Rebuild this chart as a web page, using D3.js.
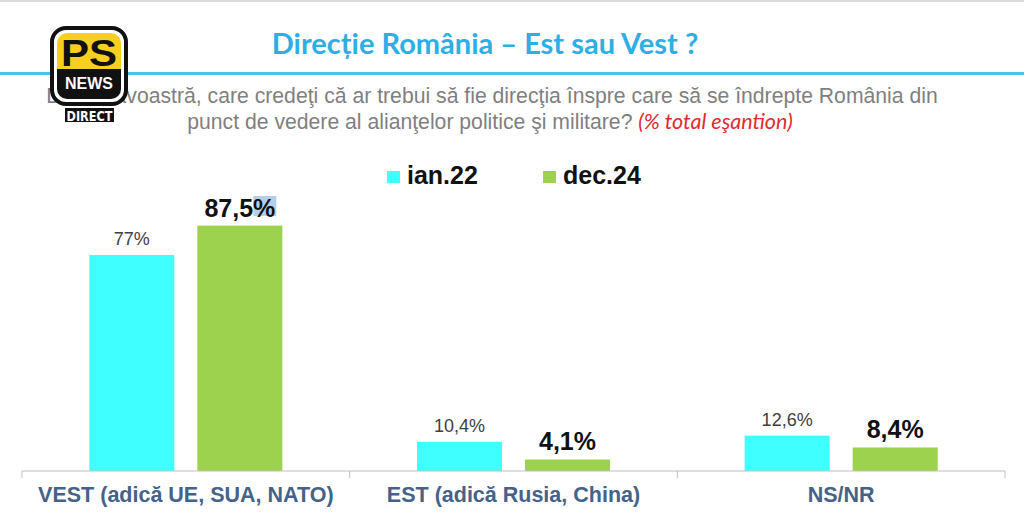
<!DOCTYPE html>
<html>
<head>
<meta charset="utf-8">
<script src="https://cdn.jsdelivr.net/npm/d3@7"></script>
<style>
  body { margin: 0; background: #fff; }
  svg { display: block; }
</style>
</head>
<body>
<svg id="chart"></svg>
<script>
let categories = ["VEST (adică UE, SUA, NATO)", "EST (adică Rusia, China)", "NS/NR"]
let series = ["ian.22", "dec.24"]
let ian22 = [77, 10.4, 12.6]
let dec24 = [87.5, 4.1, 8.4]
let valueLabels = [["77%", "10,4%", "12,6%"], ["87,5%", "4,1%", "8,4%"]]
let colors = ["#40ffff", "#9dd24f"]

let width = 1024
let height = 532
let baseY = 471

let svg = d3.select('#chart')
  .attr('width', width)
  .attr('height', height)

// frame
svg.append('rect').attr('x', 0).attr('y', 0).attr('width', width).attr('height', 2).attr('fill', '#dcdcdc')
svg.append('rect').attr('x', 0).attr('y', 72).attr('width', width).attr('height', 3).attr('fill', '#4cc3ea')

svg.append('text')
  .attr('x', 485).attr('y', 54)
  .attr('text-anchor', 'middle')
  .style('font-family', 'Lato, sans-serif')
  .style('font-weight', 'bold')
  .style('font-size', '29px')
  .attr('fill', '#2eaee4')
  .text('Direcție România – Est sau Vest ?')

let sub = svg.append('g')
  .style('font-family', '"Liberation Sans", Arial, sans-serif')
  .attr('fill', '#7f7f7f')
  .style('font-size', '21.2px')
sub.append('text').attr('x', 492).attr('y', 103).attr('text-anchor', 'middle')
  .text('Dumneavoastră, care credeţi că ar trebui să fie direcţia înspre care să se îndrepte România din')
let l2 = sub.append('text').attr('x', 490).attr('y', 129).attr('text-anchor', 'middle')
l2.append('tspan').text('punct de vedere al alianţelor politice şi militare?  ')
l2.append('tspan')
  .attr('fill', '#e02b2f')
  .style('font-family', 'Lato, sans-serif')
  .style('font-style', 'italic')
  .style('font-size', '21.5px')
  .text('(% total eşantion)')

// scales
let x = d3.scaleBand().domain(categories).range([22, 1005]).padding(0)
let xSub = d3.scaleBand().domain(series).range([0, x.bandwidth()])
  .paddingInner(0.213).paddingOuter(0.623)
let y = d3.scaleLinear().domain([0, 100]).range([baseY, 190.5])

let rows = categories.map((c, i) => ({ cat: c, vals: [ian22[i], dec24[i]], i: i }))

// highlight artifact behind "%" of 87,5%
svg.append('rect')
  .attr('x', x(categories[0]) + xSub(series[1]) + 56)
  .attr('y', 196).attr('width', 23).attr('height', 20)
  .attr('fill', '#b3d0e8')

let groups = svg.append('g').selectAll('g')
  .data(rows)
  .enter()
  .append('g')
  .attr('transform', d => 'translate(' + x(d.cat) + ',0)')

groups.selectAll('rect.bar')
  .data(d => d.vals.map((v, k) => ({ v: v, k: k, i: d.i })))
  .enter()
  .append('rect')
  .attr('class', 'bar')
  .attr('x', d => xSub(series[d.k]))
  .attr('width', xSub.bandwidth())
  .attr('y', d => y(d.v))
  .attr('height', d => baseY - y(d.v))
  .attr('fill', d => colors[d.k])

groups.selectAll('text.val')
  .data(d => d.vals.map((v, k) => ({ v: v, k: k, i: d.i })))
  .enter()
  .append('text')
  .attr('class', 'val')
  .attr('x', d => xSub(series[d.k]) + xSub.bandwidth() / 2)
  .attr('y', d => y(d.v) - (d.k === 0 ? 10 : 9))
  .attr('text-anchor', 'middle')
  .style('font-family', '"Liberation Sans", Arial, sans-serif')
  .style('font-weight', d => d.k === 0 ? 'normal' : 'bold')
  .style('font-size', d => d.k === 0 ? '18px' : '25px')
  .attr('fill', d => d.k === 0 ? '#404040' : '#111')
  .text(d => valueLabels[d.k][d.i])

// axis
let xAxis = d3.axisBottom(x).tickSize(0).tickPadding(16)
let ax = svg.append('g')
  .attr('transform', 'translate(0,' + baseY + ')')
  .call(xAxis)
ax.select('.domain').attr('stroke', '#bfbfbf').attr('d', 'M22,0H1005')
ax.selectAll('text')
  .style('font-family', '"Liberation Sans", Arial, sans-serif')
  .style('font-weight', 'bold')
  .style('font-size', '21.5px')
  .attr('fill', '#44628a')

let bounds = categories.map(c => x(c)).concat([x(categories[2]) + x.bandwidth()])
ax.selectAll('line.sep')
  .data(bounds)
  .enter()
  .append('line')
  .attr('class', 'sep')
  .attr('x1', d => d).attr('x2', d => d)
  .attr('y1', 0).attr('y2', 7)
  .attr('stroke', '#bfbfbf')

// legend
let leg = svg.append('g')
let legX = [387, 543]
series.forEach((s, k) => {
  leg.append('rect').attr('x', legX[k]).attr('y', 171).attr('width', 13).attr('height', 12).attr('fill', colors[k])
  leg.append('text').attr('x', legX[k] + 20).attr('y', 184)
    .style('font-family', '"Liberation Sans", Arial, sans-serif')
    .style('font-weight', 'bold')
    .style('font-size', '25px')
    .attr('fill', '#111')
    .text(s)
})

// logo
let logo = svg.append('g')
logo.append('rect').attr('x', 52).attr('y', 28).attr('width', 74).attr('height', 76).attr('rx', 14)
  .attr('fill', '#fff').attr('stroke', '#111').attr('stroke-width', 4)
logo.append('clipPath').attr('id', 'lc').append('rect')
  .attr('x', 57).attr('y', 33).attr('width', 64).attr('height', 66).attr('rx', 10)
let inner = logo.append('g').attr('clip-path', 'url(#lc)')
inner.append('rect').attr('x', 57).attr('y', 33).attr('width', 64).attr('height', 36).attr('fill', '#f7cf1e')
inner.append('rect').attr('x', 57).attr('y', 69).attr('width', 64).attr('height', 30).attr('fill', '#111')
logo.append('text').attr('x', 89).attr('y', 66).attr('text-anchor', 'middle')
  .style('font-family', '"Liberation Sans", Arial, sans-serif').style('font-weight', 'bold')
  .style('font-size', '37px').attr('fill', '#111')
  .attr('textLength', 56).attr('lengthAdjust', 'spacingAndGlyphs').text('PS')
logo.append('text').attr('x', 89).attr('y', 89).attr('text-anchor', 'middle')
  .style('font-family', '"Liberation Sans", Arial, sans-serif').style('font-weight', 'bold')
  .style('font-size', '17px').attr('fill', '#fff')
  .attr('textLength', 48).attr('lengthAdjust', 'spacingAndGlyphs').text('NEWS')
logo.append('rect').attr('x', 65).attr('y', 108).attr('width', 49).attr('height', 14).attr('fill', '#111')
logo.append('text').attr('x', 89.5).attr('y', 120.5).attr('text-anchor', 'middle')
  .style('font-family', '"DejaVu Sans Condensed", "DejaVu Sans", sans-serif').style('font-weight', 'bold')
  .style('font-size', '14px').attr('fill', '#fff')
  .attr('textLength', 46).attr('lengthAdjust', 'spacingAndGlyphs').text('DIRECT')
</script>
</body>
</html>
